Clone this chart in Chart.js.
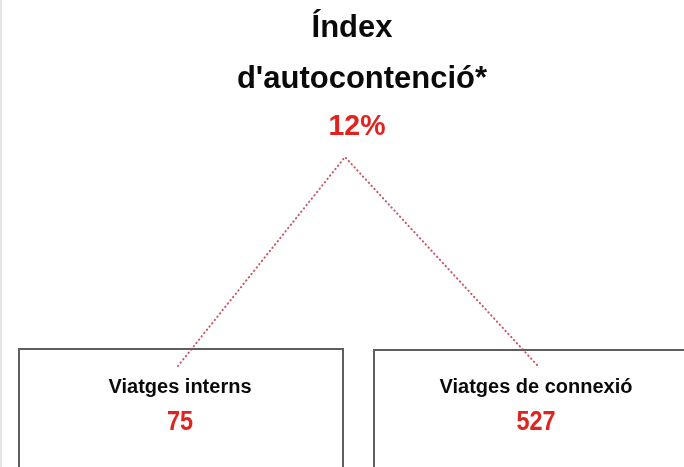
<!DOCTYPE html>
<html>
<head>
<meta charset="utf-8">
<script src="https://cdn.jsdelivr.net/npm/chart.js@4/dist/chart.umd.min.js"></script>
<style>
  html, body { margin: 0; padding: 0; background: #fff; }
  #wrap { width: 684px; height: 467px; }
</style>
</head>
<body>
<div id="wrap"><canvas id="c" width="684" height="467"></canvas></div>
<script>
// ---- data ----
const titleLines = ["Índex", "d'autocontenció*"];
const indexValue = [12];            // percent
const categories = ["Viatges interns", "Viatges de connexió"];
const tripValues = [75, 527];

// ---- layout (canvas-like units on hidden linear scales) ----
const layout = {
  titleX: [352, 362], titleY: [37, 88], indexX: 357, indexY: 135,
  apex: { x: 345, y: 157 },
  boxLeft: [19, 374], boxRight: [343, 700], boxTop: [349, 350], boxBottom: 490,
  labelX: [180, 536], labelY: 393, valueY: 430,
  linkEnd: [{ x: 178, y: 366 }, { x: 538, y: 366 }]
};

const red = '#e0231f';
const dark = '#0a0a0a';

const boxDatasets = categories.map((c, i) => ({
  label: 'box ' + c,
  data: [
    { x: layout.boxLeft[i], y: layout.boxBottom },
    { x: layout.boxLeft[i], y: layout.boxTop[i] },
    { x: layout.boxRight[i], y: layout.boxTop[i] },
    { x: layout.boxRight[i], y: layout.boxBottom }
  ],
  showLine: true, borderColor: '#5e5e5e', borderWidth: 2,
  pointRadius: 0, fill: false, tension: 0, order: 2
}));

const linkDataset = {
  label: 'links',
  data: [layout.linkEnd[0], layout.apex, layout.linkEnd[1]],
  showLine: true, borderColor: 'rgba(190,55,70,0.85)', borderWidth: 2,
  borderCapStyle: 'round', borderDash: [0.4, 3.8],
  pointRadius: 0, fill: false, tension: 0, order: 1
};

function drawText(ctx, text, x, y, font, color, sx) {
  ctx.save();
  ctx.font = font;
  ctx.fillStyle = color;
  ctx.textAlign = 'center';
  ctx.textBaseline = 'alphabetic';
  ctx.translate(x, y);
  ctx.scale(sx || 1, 1);
  ctx.fillText(text, 0, 0);
  ctx.restore();
}

const textPlugin = {
  id: 'textPlugin',
  beforeDraw(chart) {
    const ctx = chart.ctx;
    ctx.save();
    ctx.fillStyle = '#fff';
    ctx.fillRect(0, 0, chart.width, chart.height);
    ctx.fillStyle = '#e4e4e4';
    ctx.fillRect(0, 0, 2, chart.height);
    ctx.restore();
  },
  afterDatasetsDraw(chart) {
    const ctx = chart.ctx;
    const xs = chart.scales.x, ys = chart.scales.y;
    const F = '"Liberation Sans", Arial, sans-serif';
    titleLines.forEach((t, i) => {
      drawText(ctx, t, xs.getPixelForValue(layout.titleX[i]), ys.getPixelForValue(layout.titleY[i]),
        'bold 31px ' + F, dark, 1);
    });
    drawText(ctx, indexValue[0] + '%', xs.getPixelForValue(layout.indexX), ys.getPixelForValue(layout.indexY),
      'bold 30px ' + F, red, 0.95);
    categories.forEach((c, i) => {
      drawText(ctx, c, xs.getPixelForValue(layout.labelX[i]), ys.getPixelForValue(layout.labelY),
        'bold 20px ' + F, dark, 1);
      drawText(ctx, String(tripValues[i]), xs.getPixelForValue(layout.labelX[i]), ys.getPixelForValue(layout.valueY),
        'bold 27px ' + F, red, 0.87);
    });
  }
};

new Chart(document.getElementById('c'), {
  type: 'scatter',
  data: { datasets: [...boxDatasets, linkDataset] },
  options: {
    responsive: false,
    devicePixelRatio: 1,
    animation: false,
    layout: { padding: 0 },
    plugins: { legend: { display: false }, tooltip: { enabled: false }, title: { display: false } },
    scales: {
      x: { type: 'linear', min: 0, max: 684, display: false },
      y: { type: 'linear', min: 0, max: 467, reverse: true, display: false }
    },
    events: []
  },
  plugins: [textPlugin]
});
</script>
</body>
</html>
